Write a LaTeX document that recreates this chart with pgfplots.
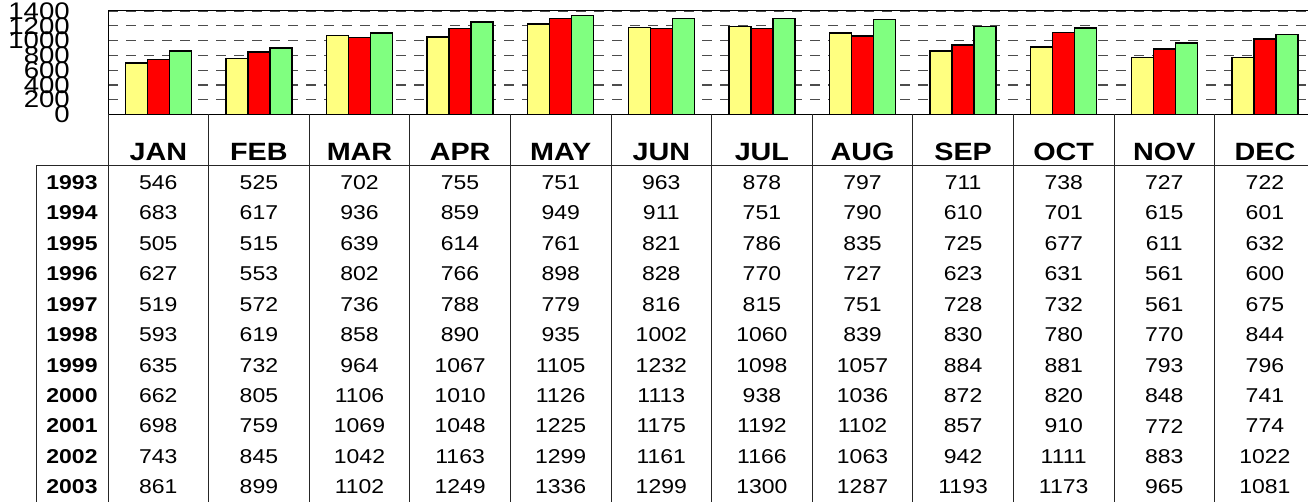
\documentclass[border=0pt]{standalone}
\usepackage{pgfplots}
\pgfplotsset{compat=1.18}
\usepackage{fontspec}
\setmainfont{Liberation Sans}
\usepackage{graphicx}
\definecolor{cy}{HTML}{FFFF80}
\definecolor{cr}{HTML}{FF0000}
\definecolor{cg}{HTML}{80FF80}
\newcommand\sx[1]{\scalebox{1.15}[1]{#1}}
\begin{document}
\begin{tikzpicture}[x=1pt,y=1pt]
\clip (0,0) rectangle (1308,502);
\begin{axis}[
  at={(108pt,387.5pt)}, anchor=south west,
  scale only axis, width=1207.2pt, height=103.5pt,
  xmin=0.5, xmax=12.5, ymin=0, ymax=1400,
  ybar=0pt, bar width=22pt,
  axis line style={black, line width=1pt},
  xtick=\empty,
  ytick={0,200,...,1400},
  yticklabels={\sx{0},\sx{200},\sx{400},\sx{600},\sx{800},\sx{1000},\sx{1200},\sx{1400}},
  major tick length=0pt,
  ymajorgrids, grid style={dash pattern=on 10pt off 8pt, black!70, line width=1.2pt},
  yticklabel style={font=\fontsize{24}{24}\selectfont, inner sep=0pt, anchor=east, xshift=-38pt},
  every axis plot/.append style={draw=black, line width=1.5pt},
  clip=false,
]
\addplot[fill=cy] coordinates {(1,698) (2,759) (3,1069) (4,1048) (5,1225) (6,1175) (7,1192) (8,1102) (9,857) (10,910) (11,772) (12,774)};
\addplot[fill=cr] coordinates {(1,743) (2,845) (3,1042) (4,1163) (5,1299) (6,1161) (7,1166) (8,1063) (9,942) (10,1111) (11,883) (12,1022)};
\addplot[fill=cg] coordinates {(1,861) (2,899) (3,1102) (4,1249) (5,1336) (6,1299) (7,1300) (8,1287) (9,1193) (10,1173) (11,965) (12,1081)};
\end{axis}
% table grid
\foreach \k in {0,...,12} {
  \draw[line width=1pt, black!85] ({108+\k*100.6},387.5) -- ({108+\k*100.6},0);
}
\draw[line width=1pt, black!85] (36,336) -- (1308,336);
\draw[line width=1pt, black!85] (36,336) -- (36,0);
% header
\foreach \m [count=\k] in {JAN,FEB,MAR,APR,MAY,JUN,JUL,AUG,SEP,OCT,NOV,DEC} {
  \node[font=\fontsize{25}{25}\selectfont\bfseries, inner sep=0pt] at ({108+(\k-0.5)*100.6},350) {\sx{\m}};
}
% rows
\foreach \yr/\vals [count=\i from 0] in {
 1993/{546,525,702,755,751,963,878,797,711,738,727,722},
 1994/{683,617,936,859,949,911,751,790,610,701,615,601},
 1995/{505,515,639,614,761,821,786,835,725,677,611,632},
 1996/{627,553,802,766,898,828,770,727,623,631,561,600},
 1997/{519,572,736,788,779,816,815,751,728,732,561,675},
 1998/{593,619,858,890,935,1002,1060,839,830,780,770,844},
 1999/{635,732,964,1067,1105,1232,1098,1057,884,881,793,796},
 2000/{662,805,1106,1010,1126,1113,938,1036,872,820,848,741},
 2001/{698,759,1069,1048,1225,1175,1192,1102,857,910,772,774},
 2002/{743,845,1042,1163,1299,1161,1166,1063,942,1111,883,1022},
 2003/{861,899,1102,1249,1336,1299,1300,1287,1193,1173,965,1081}} {
  \node[font=\fontsize{20}{20}\selectfont\bfseries, inner sep=0pt] at (72,{502-182.5-30.45*\i}) {\sx{\yr}};
  \foreach \v [count=\k] in \vals {
    \node[font=\fontsize{20}{20}\selectfont, inner sep=0pt] at ({108+(\k-0.5)*100.6},{502-182.5-30.45*\i}) {\sx{\v}};
  }
}
\end{tikzpicture}
\end{document}
